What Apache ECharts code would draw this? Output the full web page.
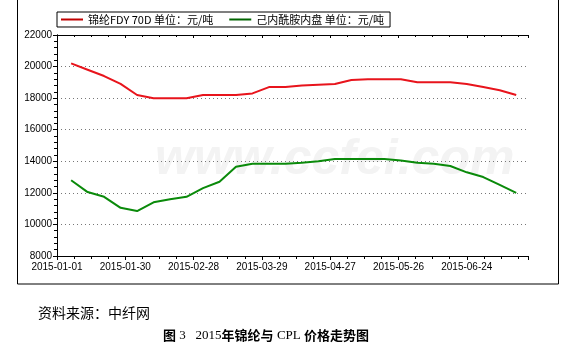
<!DOCTYPE html>
<html><head><meta charset="utf-8">
<script src="https://cdn.jsdelivr.net/npm/echarts@6/dist/echarts.min.js"></script>
<style>html,body{margin:0;padding:0;background:#fff;}#c{width:572px;height:354px;}</style>
</head><body><div id="c"></div>
<script>
var dates = ['2015-01-07','2015-01-14','2015-01-21','2015-01-28','2015-02-04','2015-02-11','2015-02-18','2015-02-25','2015-03-04','2015-03-11','2015-03-18','2015-03-25','2015-04-01','2015-04-08','2015-04-15','2015-04-22','2015-04-29','2015-05-06','2015-05-13','2015-05-20','2015-05-27','2015-06-03','2015-06-10','2015-06-17','2015-06-24','2015-07-01','2015-07-08','2015-07-15'];
var nylonFDY = [20200,19800,19400,18900,18200,18000,18000,18000,18200,18200,18200,18300,18700,18700,18800,18850,18900,19150,19200,19200,19200,19000,19000,19000,18900,18700,18500,18200];
var cpl = [12800,12050,11750,11050,10850,11400,11600,11750,12300,12700,13650,13850,13850,13850,13900,14000,14150,14150,14150,14150,14050,13900,13850,13700,13300,13000,12500,12000];
var seriesNames = ['锦纶FDY 70D 单位：元/吨','己内酰胺内盘 单位：元/吨'];
var startDate = '2015-01-01';
var xMaxDays = 200, xTickDays = 29;
var yMin = 8000, yMax = 22000, yStep = 2000;

var t0 = Date.parse(startDate + 'T00:00:00Z');
function dayOf(s){ return Math.round((Date.parse(s + 'T00:00:00Z') - t0) / 86400000); }
function fmtDay(v){ var d = new Date(t0 + v*86400000); var m = d.getUTCMonth()+1, dd = d.getUTCDate();
  return d.getUTCFullYear() + '-' + (m<10?'0':'') + m + '-' + (dd<10?'0':'') + dd; }
function pairs(vals){ return dates.map(function(d,i){ return [dayOf(d), vals[i]]; }); }

var chart = echarts.init(document.getElementById('c'), null, {renderer:'canvas'});
var axisFont = {fontFamily:'Liberation Sans, Arial, sans-serif', fontSize:10, color:'#000'};
chart.setOption({
  animation:false,
  backgroundColor:'#fff',
  grid:{left:57, right:44, top:35, bottom:98},
  legend:{
    left:57, top:12, orient:'horizontal',
    borderColor:'#000', borderWidth:1, padding:[2,6,2,4],
    itemWidth:22, itemHeight:2, itemGap:16, icon:'rect',
    textStyle:{fontFamily:'Noto Sans CJK SC', fontSize:11, color:'#000'},
    data:seriesNames
  },
  graphic:[
    {type:'rect', shape:{x:17.5, y:-5, width:541, height:289}, style:{fill:'none', stroke:'#000', lineWidth:1}, z:-10, silent:true},
    {type:'text', left:155, top:135, style:{text:'www.ccfei.com', font:'italic bold 50px Liberation Sans, Arial, sans-serif', fill:'#f3f3f3'}, z:-5, silent:true},
    {type:'text', left:38, top:306, style:{text:'资料来源：中纤网', font:'14px Noto Sans CJK SC', fill:'#000'}},
    {type:'text', left:163, top:329, style:{
      text:'{b|图} {n|3   2015}{b|年锦纶与} {n|CPL} {b|价格走势图}',
      rich:{
        b:{fontFamily:'Noto Sans CJK SC', fontWeight:'bold', fontSize:13, fill:'#000'},
        n:{fontFamily:'Liberation Serif', fontSize:13, fill:'#000'}
      }
    }}
  ],
  xAxis:[{
    type:'value', min:0, max:xMaxDays, interval:xTickDays, position:'bottom',
    axisLine:{show:true, lineStyle:{color:'#000', width:1}},
    axisTick:{show:true, inside:false, length:4, lineStyle:{color:'#000'}},
    minorTick:{show:true, splitNumber:4, length:3, lineStyle:{color:'#000'}},
    axisLabel:Object.assign({formatter:fmtDay, showMaxLabel:false, margin:6}, axisFont),
    splitLine:{show:false}
  },{
    type:'value', min:0, max:xMaxDays, interval:xTickDays, position:'top',
    axisLine:{show:true, lineStyle:{color:'#000', width:1}},
    axisTick:{show:true, inside:true, length:3, lineStyle:{color:'#000'}},
    minorTick:{show:true, splitNumber:4, length:2, lineStyle:{color:'#000'}},
    axisLabel:{show:false}, splitLine:{show:false}
  }],
  yAxis:[{
    type:'value', min:yMin, max:yMax, interval:yStep, position:'left',
    axisLine:{show:true, lineStyle:{color:'#000', width:1}},
    axisTick:{show:true, length:4, lineStyle:{color:'#000'}},
    minorTick:{show:true, splitNumber:5, length:3, lineStyle:{color:'#000'}},
    axisLabel:Object.assign({margin:5, formatter:function(v){ return String(v); }}, axisFont),
    splitLine:{show:true, lineStyle:{color:'#777', type:[1,3], width:1}}
  },{
    type:'value', min:yMin, max:yMax, interval:yStep, position:'right',
    axisLine:{show:true, lineStyle:{color:'#000', width:1}},
    axisTick:{show:false}, axisLabel:{show:false}, splitLine:{show:false}
  }],
  series:[
    {name:seriesNames[0], type:'line', data:pairs(nylonFDY), showSymbol:false, symbol:'none',
     lineStyle:{color:'#e8141c', width:2}, itemStyle:{color:'#c00000'}},
    {name:seriesNames[1], type:'line', data:pairs(cpl), showSymbol:false, symbol:'none',
     lineStyle:{color:'#0a8a0a', width:2}, itemStyle:{color:'#006400'}}
  ]
});
</script>
</body></html>
